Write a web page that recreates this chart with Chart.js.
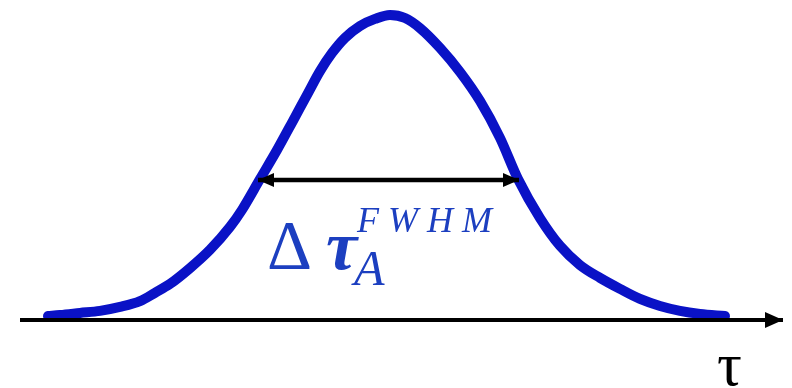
<!DOCTYPE html>
<html>
<head>
<meta charset="utf-8">
<script src="https://cdn.jsdelivr.net/npm/chart.js@4/dist/chart.umd.min.js"></script>
<style>
    html, body { margin: 0; padding: 0; background: #fff; }
    #wrap { width: 792px; height: 388px; }
</style>
</head>
<body>
<div id="wrap"><canvas id="pulseChart" width="792" height="388"></canvas></div>
<script>
// pulse shape: delay tau vs normalised amplitude
const tau = [-3.40, -3.28, -3.08, -2.88, -2.68, -2.48, -2.33, -2.18, -1.98, -1.78, -1.58, -1.46,
    -1.28, -1.11, -0.95, -0.80, -0.68, -0.56, -0.43, -0.28, -0.13, 0.02,
    0.17, 0.32, 0.52, 0.72, 0.92, 1.12, 1.30, 1.52, 1.72, 1.92,
    2.12, 2.32, 2.52, 2.72, 2.92, 3.12, 3.37];
const amplitude = [0.013, 0.016, 0.023, 0.030, 0.043, 0.062, 0.089, 0.118, 0.170, 0.230, 0.305, 0.361,
    0.462, 0.557, 0.653, 0.744, 0.816, 0.875, 0.925, 0.964, 0.987, 1.000,
    0.990, 0.957, 0.892, 0.813, 0.718, 0.597, 0.462, 0.334, 0.243, 0.180,
    0.138, 0.102, 0.069, 0.046, 0.030, 0.020, 0.013];

// horizontal axis and the full-width-at-half-maximum marker
const axisEnds = [-3.68, 3.95];
const fwhmEnds = [-1.30, 1.31];
const halfLevel = 0.459;

const axisLabel = 'τ';
const widthSymbol = ['Δ', 'τ'];
const widthSub = 'A';
const widthSup = 'FWHM';

const BLUE = '#0a12c6';
const TEXT_BLUE = '#1c3fc0';

function arrowHead(ctx, tipX, y, dir, len, half) {
    ctx.beginPath();
    ctx.moveTo(tipX, y);
    ctx.lineTo(tipX + dir * len, y - half);
    ctx.lineTo(tipX + dir * len, y + half);
    ctx.closePath();
    ctx.fill();
}

const annotations = {
    id: 'annotations',
    afterDatasetsDraw(chart) {
        const ctx = chart.ctx;
        const xs = chart.scales.x;
        const ys = chart.scales.y;
        ctx.save();

        // arrow heads
        ctx.fillStyle = '#000';
        const axisX = xs.getPixelForValue(axisEnds[1]);
        const axisY = ys.getPixelForValue(0);
        arrowHead(ctx, axisX, axisY, -1, 18, 8);
        const hy = ys.getPixelForValue(halfLevel);
        const leftX = xs.getPixelForValue(fwhmEnds[0]);
        const rightX = xs.getPixelForValue(fwhmEnds[1]);
        arrowHead(ctx, leftX, hy, 1, 16, 7);
        arrowHead(ctx, rightX, hy, -1, 16, 7);

        // axis name
        ctx.fillStyle = '#000';
        ctx.textBaseline = 'alphabetic';
        ctx.font = '62px "Liberation Serif"';
        ctx.fillText(axisLabel, axisX - 66, axisY + 65);

        // width label under the marker
        ctx.fillStyle = TEXT_BLUE;
        ctx.font = '70px "Liberation Serif"';
        ctx.fillText(widthSymbol[0], leftX + 9, hy + 89);
        ctx.font = 'italic bold 70px "Liberation Serif"';
        ctx.fillText(widthSymbol[1], leftX + 68, hy + 89);
        ctx.font = 'italic 50px "Liberation Serif"';
        ctx.fillText(widthSub, leftX + 96, hy + 105);
        ctx.font = 'italic 36px "Liberation Serif"';
        ctx.letterSpacing = '9px';
        ctx.fillText(widthSup, leftX + 99, hy + 52);

        ctx.restore();
    }
};

new Chart(document.getElementById('pulseChart'), {
    type: 'scatter',
    data: {
        datasets: [
            {
                data: axisEnds.map(t => ({ x: t, y: 0 })),
                showLine: true,
                borderColor: '#000',
                borderWidth: 4,
                pointRadius: 0,
                order: 0
            },
            {
                data: fwhmEnds.map(t => ({ x: t, y: halfLevel })),
                showLine: true,
                borderColor: '#000',
                borderWidth: 4.5,
                pointRadius: 0,
                order: 0
            },
            {
                data: tau.map((t, i) => ({ x: t, y: amplitude[i] })),
                showLine: true,
                borderColor: BLUE,
                borderWidth: 10,
                borderCapStyle: 'round',
                borderJoinStyle: 'round',
                cubicInterpolationMode: 'monotone',
                pointRadius: 0,
                order: 1
            }
        ]
    },
    options: {
        responsive: false,
        animation: false,
        layout: { padding: 0 },
        plugins: {
            legend: { display: false },
            tooltip: { enabled: false }
        },
        scales: {
            x: { type: 'linear', min: -3.88, max: 4.04, display: false },
            y: { min: -0.223, max: 1.049, display: false }
        }
    },
    plugins: [annotations]
});
</script>
</body>
</html>
